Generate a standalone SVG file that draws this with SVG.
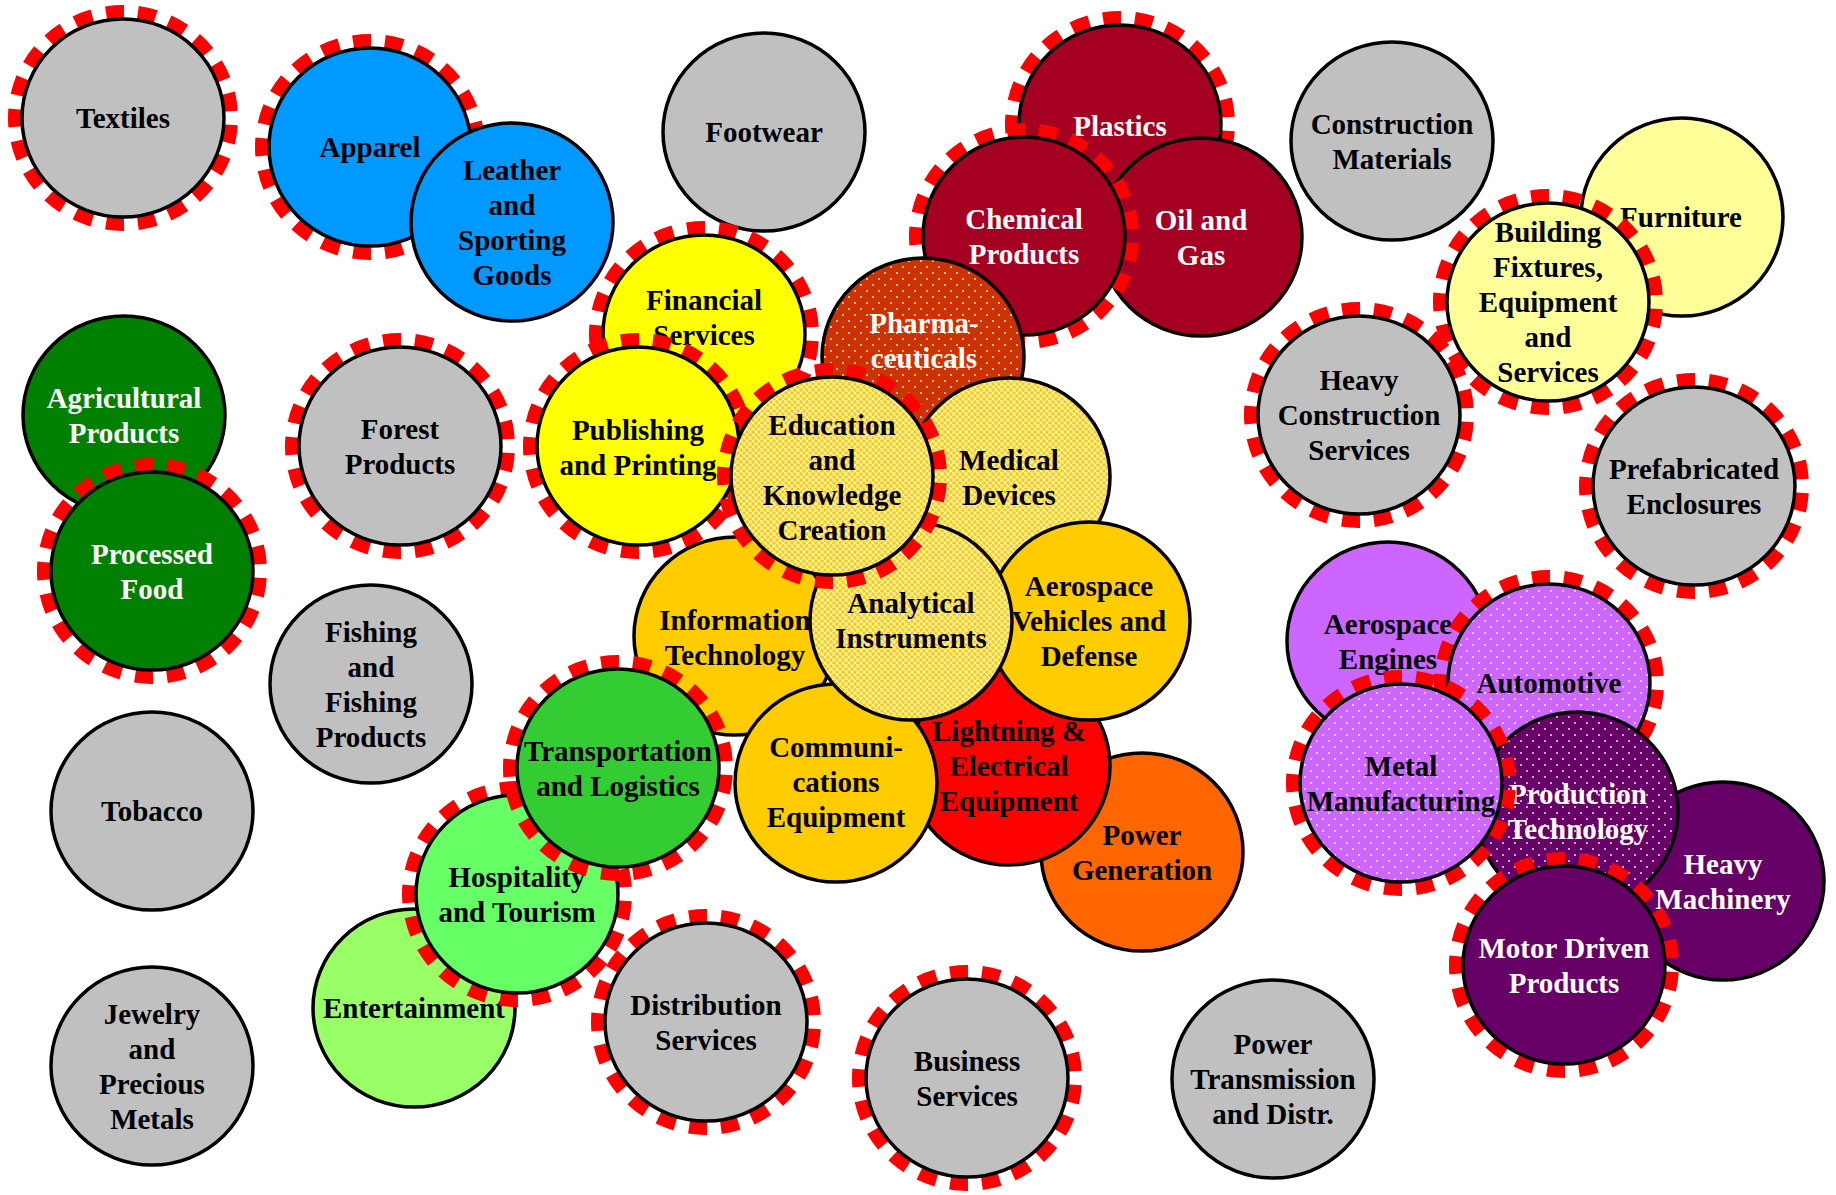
<svg xmlns="http://www.w3.org/2000/svg" width="1836" height="1195" viewBox="0 0 1836 1195">
<style>
.body{stroke:#000;stroke-width:3.5}
.ring{fill:none;stroke:#FF0000;stroke-width:16;stroke-dasharray:18 14;stroke-dashoffset:25}
.t{font-family:"Liberation Serif","Times New Roman",serif;font-weight:bold;font-size:29px;text-anchor:middle;fill:#000}
.w{fill:#fff}
.gray{fill:#C0C0C0}.blue{fill:#0099FF}.dred{fill:#A50021}.yel{fill:#FFFF00}.lyel{fill:#FFFF99}
.dgreen{fill:#008000}.gold{fill:#FFCC00}.red{fill:#FF0000}.orange{fill:#FF6600}
.green{fill:#33CC33}.lgreen{fill:#66FF66}.lime{fill:#99FF66}.purple{fill:#CC66FF}.dpurple{fill:#660066}
.pharma{fill:url(#dotsPharma)}.hatch{fill:url(#hatch)}.dotsP{fill:url(#dotsPurple)}.dotsD{fill:url(#dotsDark)}
</style>
<defs>
<pattern id="hatch" width="6" height="6" patternUnits="userSpaceOnUse">
<rect width="6" height="6" fill="#FFCC00"/>
<path d="M0,0 L6,6 M6,0 L0,6" stroke="#fff" stroke-width="1.1" opacity="0.85"/>
</pattern>
<pattern id="dotsPharma" width="12" height="12" patternUnits="userSpaceOnUse">
<rect width="12" height="12" fill="#CC3300"/>
<circle cx="3" cy="3" r="1.1" fill="#fff" opacity="0.8"/><circle cx="9" cy="9" r="1.1" fill="#fff" opacity="0.8"/>
</pattern>
<pattern id="dotsPurple" width="12" height="12" patternUnits="userSpaceOnUse">
<rect width="12" height="12" fill="#CC66FF"/>
<circle cx="3" cy="3" r="1.1" fill="#fff" opacity="0.8"/><circle cx="9" cy="9" r="1.1" fill="#fff" opacity="0.8"/>
</pattern>
<pattern id="dotsDark" width="12" height="12" patternUnits="userSpaceOnUse">
<rect width="12" height="12" fill="#660066"/>
<circle cx="3" cy="3" r="1.1" fill="#fff" opacity="0.8"/><circle cx="9" cy="9" r="1.1" fill="#fff" opacity="0.8"/>
</pattern>
</defs>
<rect width="1836" height="1195" fill="#fff"/>
<g id="connectors"></g>
<g id="nodes">
<g id="textiles"><ellipse class="ring" cx="123" cy="118" rx="107" ry="105" pathLength="672"/><ellipse class="body gray" cx="123" cy="118" rx="101" ry="99"/><text class="t"><tspan x="123" y="128">Textiles</tspan></text></g>
<g id="apparel"><ellipse class="ring" cx="370" cy="147" rx="107" ry="105" pathLength="672"/><ellipse class="body blue" cx="370" cy="147" rx="101" ry="99"/><text class="t"><tspan x="370" y="157">Apparel</tspan></text></g>
<g id="leather"><ellipse class="body blue" cx="512" cy="222" rx="101" ry="99"/><text class="t"><tspan x="512" y="179.5">Leather</tspan><tspan x="512" y="214.5">and</tspan><tspan x="512" y="249.5">Sporting</tspan><tspan x="512" y="284.5">Goods</tspan></text></g>
<g id="footwear"><ellipse class="body gray" cx="764" cy="132" rx="101" ry="99"/><text class="t"><tspan x="764" y="142">Footwear</tspan></text></g>
<g id="plastics"><ellipse class="ring" cx="1120" cy="124" rx="107" ry="105" pathLength="672"/><ellipse class="body dred" cx="1120" cy="124" rx="101" ry="99"/><text class="t w"><tspan x="1120" y="136">Plastics</tspan></text></g>
<g id="oil-gas"><ellipse class="body dred" cx="1201" cy="237" rx="101" ry="99"/><text class="t w"><tspan x="1201" y="229.5">Oil and</tspan><tspan x="1201" y="264.5">Gas</tspan></text></g>
<g id="chemical"><ellipse class="ring" cx="1024" cy="236" rx="107" ry="105" pathLength="672"/><ellipse class="body dred" cx="1024" cy="236" rx="101" ry="99"/><text class="t w"><tspan x="1024" y="228.5">Chemical</tspan><tspan x="1024" y="263.5">Products</tspan></text></g>
<g id="pharma"><ellipse class="body pharma" cx="923" cy="357" rx="101" ry="99"/><text class="t w"><tspan x="924" y="333">Pharma-</tspan><tspan x="924" y="368">ceuticals</tspan></text></g>
<g id="construction-materials"><ellipse class="body gray" cx="1392" cy="141" rx="101" ry="99"/><text class="t"><tspan x="1392" y="133.5">Construction</tspan><tspan x="1392" y="168.5">Materials</tspan></text></g>
<g id="furniture"><ellipse class="body lyel" cx="1682" cy="217" rx="101" ry="99"/><text class="t"><tspan x="1681" y="227">Furniture</tspan></text></g>
<g id="building-fixtures"><ellipse class="ring" cx="1548" cy="302" rx="107" ry="105" pathLength="672"/><ellipse class="body lyel" cx="1548" cy="302" rx="101" ry="99"/><text class="t"><tspan x="1548" y="242">Building</tspan><tspan x="1548" y="277">Fixtures,</tspan><tspan x="1548" y="312">Equipment</tspan><tspan x="1548" y="347">and</tspan><tspan x="1548" y="382">Services</tspan></text></g>
<g id="heavy-construction"><ellipse class="ring" cx="1359" cy="415" rx="107" ry="105" pathLength="672"/><ellipse class="body gray" cx="1359" cy="415" rx="101" ry="99"/><text class="t"><tspan x="1359" y="390">Heavy</tspan><tspan x="1359" y="425">Construction</tspan><tspan x="1359" y="460">Services</tspan></text></g>
<g id="prefabricated"><ellipse class="ring" cx="1694" cy="486" rx="107" ry="105" pathLength="672"/><ellipse class="body gray" cx="1694" cy="486" rx="101" ry="99"/><text class="t"><tspan x="1694" y="478.5">Prefabricated</tspan><tspan x="1694" y="513.5">Enclosures</tspan></text></g>
<g id="agricultural"><ellipse class="body dgreen" cx="124" cy="415" rx="101" ry="99"/><text class="t w"><tspan x="124" y="408">Agricultural</tspan><tspan x="124" y="443">Products</tspan></text></g>
<g id="processed-food"><ellipse class="ring" cx="152" cy="571" rx="107" ry="105" pathLength="672"/><ellipse class="body dgreen" cx="152" cy="571" rx="101" ry="99"/><text class="t w"><tspan x="152" y="563.5">Processed</tspan><tspan x="152" y="598.5">Food</tspan></text></g>
<g id="forest"><ellipse class="ring" cx="400" cy="446" rx="107" ry="105" pathLength="672"/><ellipse class="body gray" cx="400" cy="446" rx="101" ry="99"/><text class="t"><tspan x="400" y="438.5">Forest</tspan><tspan x="400" y="473.5">Products</tspan></text></g>
<g id="fishing"><ellipse class="body gray" cx="371" cy="684" rx="101" ry="99"/><text class="t"><tspan x="371" y="641.5">Fishing</tspan><tspan x="371" y="676.5">and</tspan><tspan x="371" y="711.5">Fishing</tspan><tspan x="371" y="746.5">Products</tspan></text></g>
<g id="tobacco"><ellipse class="body gray" cx="152" cy="811" rx="101" ry="99"/><text class="t"><tspan x="152" y="821">Tobacco</tspan></text></g>
<g id="jewelry"><ellipse class="body gray" cx="152" cy="1066" rx="101" ry="99"/><text class="t"><tspan x="152" y="1023.5">Jewelry</tspan><tspan x="152" y="1058.5">and</tspan><tspan x="152" y="1093.5">Precious</tspan><tspan x="152" y="1128.5">Metals</tspan></text></g>
<g id="financial"><ellipse class="ring" cx="704" cy="334" rx="107" ry="105" pathLength="672"/><ellipse class="body yel" cx="704" cy="334" rx="101" ry="99"/><text class="t"><tspan x="704" y="310">Financial</tspan><tspan x="704" y="345">Services</tspan></text></g>
<g id="publishing"><ellipse class="ring" cx="638" cy="446" rx="107" ry="105" pathLength="672"/><ellipse class="body yel" cx="638" cy="446" rx="101" ry="99"/><text class="t"><tspan x="638" y="440">Publishing</tspan><tspan x="638" y="475">and Printing</tspan></text></g>
<g id="power-generation"><ellipse class="body orange" cx="1142" cy="852" rx="101" ry="99"/><text class="t"><tspan x="1142" y="845">Power</tspan><tspan x="1142" y="880">Generation</tspan></text></g>
<g id="lightning"><ellipse class="body red" cx="1009" cy="766" rx="101" ry="99"/><text class="t"><tspan x="1009" y="741">Lightning &amp;</tspan><tspan x="1009" y="776">Electrical</tspan><tspan x="1009" y="811">Equipment</tspan></text></g>
<g id="information-technology"><ellipse class="body gold" cx="735" cy="636" rx="101" ry="99"/><text class="t"><tspan x="735" y="630">Information</tspan><tspan x="735" y="665">Technology</tspan></text></g>
<g id="communications"><ellipse class="body gold" cx="836" cy="783" rx="101" ry="99"/><text class="t"><tspan x="836" y="757">Communi-</tspan><tspan x="836" y="792">cations</tspan><tspan x="836" y="827">Equipment</tspan></text></g>
<g id="medical"><ellipse class="body hatch" cx="1009" cy="477" rx="101" ry="99"/><text class="t"><tspan x="1009" y="470">Medical</tspan><tspan x="1009" y="505">Devices</tspan></text></g>
<g id="aerospace-vehicles"><ellipse class="body gold" cx="1089" cy="621" rx="101" ry="99"/><text class="t"><tspan x="1089" y="596">Aerospace</tspan><tspan x="1089" y="631">Vehicles and</tspan><tspan x="1089" y="666">Defense</tspan></text></g>
<g id="analytical"><ellipse class="body hatch" cx="911" cy="621" rx="101" ry="99"/><text class="t"><tspan x="911" y="613">Analytical</tspan><tspan x="911" y="648">Instruments</tspan></text></g>
<g id="education"><ellipse class="ring" cx="832" cy="476" rx="107" ry="105" pathLength="672"/><ellipse class="body hatch" cx="832" cy="476" rx="101" ry="99"/><text class="t"><tspan x="832" y="435">Education</tspan><tspan x="832" y="470">and</tspan><tspan x="832" y="505">Knowledge</tspan><tspan x="832" y="540">Creation</tspan></text></g>
<g id="entertainment"><ellipse class="body lime" cx="414" cy="1008" rx="101" ry="99"/><text class="t"><tspan x="414" y="1018">Entertainment</tspan></text></g>
<g id="hospitality"><ellipse class="ring" cx="517" cy="894" rx="107" ry="105" pathLength="672"/><ellipse class="body lgreen" cx="517" cy="894" rx="101" ry="99"/><text class="t"><tspan x="517" y="887">Hospitality</tspan><tspan x="517" y="922">and Tourism</tspan></text></g>
<g id="transportation"><ellipse class="ring" cx="618" cy="768" rx="107" ry="105" pathLength="672"/><ellipse class="body green" cx="618" cy="768" rx="101" ry="99"/><text class="t"><tspan x="618" y="760.5">Transportation</tspan><tspan x="618" y="795.5">and Logistics</tspan></text></g>
<g id="distribution"><ellipse class="ring" cx="706" cy="1022" rx="107" ry="105" pathLength="672"/><ellipse class="body gray" cx="706" cy="1022" rx="101" ry="99"/><text class="t"><tspan x="706" y="1015">Distribution</tspan><tspan x="706" y="1050">Services</tspan></text></g>
<g id="business"><ellipse class="ring" cx="967" cy="1078" rx="107" ry="105" pathLength="672"/><ellipse class="body gray" cx="967" cy="1078" rx="101" ry="99"/><text class="t"><tspan x="967" y="1071">Business</tspan><tspan x="967" y="1106">Services</tspan></text></g>
<g id="power-transmission"><ellipse class="body gray" cx="1273" cy="1079" rx="101" ry="99"/><text class="t"><tspan x="1273" y="1054">Power</tspan><tspan x="1273" y="1089">Transmission</tspan><tspan x="1273" y="1124">and Distr.</tspan></text></g>
<g id="aerospace-engines"><ellipse class="body purple" cx="1388" cy="641" rx="101" ry="99"/><text class="t"><tspan x="1388" y="633.5">Aerospace</tspan><tspan x="1388" y="668.5">Engines</tspan></text></g>
<g id="automotive"><ellipse class="ring" cx="1549" cy="683" rx="107" ry="105" pathLength="672"/><ellipse class="body dotsP" cx="1549" cy="683" rx="101" ry="99"/><text class="t"><tspan x="1549" y="693">Automotive</tspan></text></g>
<g id="heavy-machinery"><ellipse class="body dpurple" cx="1723" cy="881" rx="101" ry="99"/><text class="t w"><tspan x="1723" y="873.5">Heavy</tspan><tspan x="1723" y="908.5">Machinery</tspan></text></g>
<g id="production-technology"><ellipse class="body dotsD" cx="1577" cy="811" rx="101" ry="99"/><text class="t w"><tspan x="1578" y="803.5">Production</tspan><tspan x="1578" y="838.5">Technology</tspan></text></g>
<g id="metal-manufacturing"><ellipse class="ring" cx="1401" cy="783" rx="107" ry="105" pathLength="672"/><ellipse class="body dotsP" cx="1401" cy="783" rx="101" ry="99"/><text class="t"><tspan x="1401" y="775.5">Metal</tspan><tspan x="1401" y="810.5">Manufacturing</tspan></text></g>
<g id="motor-driven"><ellipse class="ring" cx="1564" cy="965" rx="107" ry="105" pathLength="672"/><ellipse class="body dpurple" cx="1564" cy="965" rx="101" ry="99"/><text class="t w"><tspan x="1564" y="957.5">Motor Driven</tspan><tspan x="1564" y="992.5">Products</tspan></text></g>
</g>
</svg>
